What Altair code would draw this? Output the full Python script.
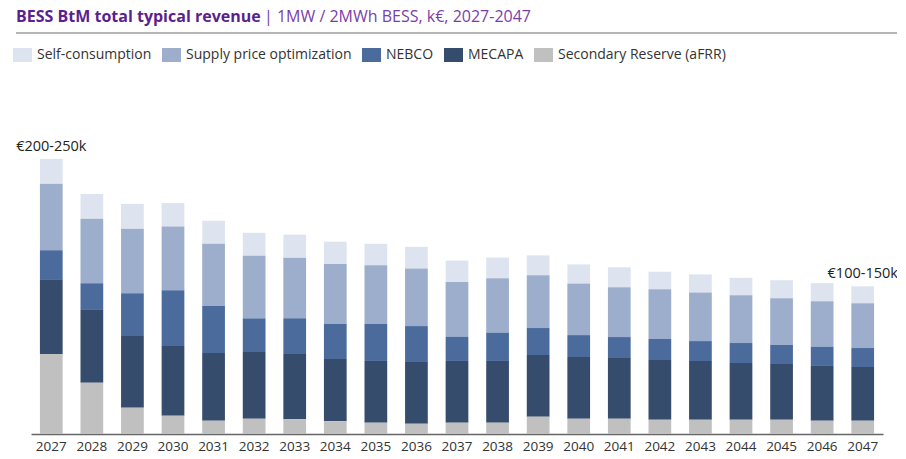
import altair as alt
import pandas as pd

# k€ per year
years = [str(y) for y in range(2027, 2048)]
afrr = [65.6, 42.1, 21.6, 15.0, 10.9, 12.5, 12.1, 10.4, 9.3, 8.4, 9.3,
        9.3, 14.2, 12.5, 12.5, 11.7, 11.7, 11.7, 11.7, 10.9, 10.9]
mecapa = [61.3, 60.2, 58.8, 57.2, 55.5, 54.7, 53.5, 51.1, 50.6, 50.6, 50.6,
          50.6, 50.6, 50.6, 49.8, 49.0, 48.1, 46.5, 45.7, 44.9, 44.0]
nebco = [23.8, 21.3, 35.0, 45.7, 38.5, 27.6, 29.3, 28.7, 30.3, 29.5, 19.7,
         23.0, 22.1, 18.0, 17.2, 17.2, 16.4, 16.4, 15.6, 15.6, 15.6]
supply = [54.6, 53.0, 53.0, 52.2, 51.1, 51.3, 49.7, 49.2, 48.1, 47.3, 45.1,
          44.9, 43.2, 42.4, 40.8, 40.8, 39.9, 39.1, 38.3, 37.5, 36.7]
selfc = [20.3, 20.3, 20.3, 19.4, 18.9, 18.9, 18.9, 18.3, 17.7, 17.7, 17.5,
         16.9, 16.4, 15.6, 16.4, 14.4, 14.8, 14.4, 14.8, 14.8, 13.9]

series = ['Self-consumption', 'Supply price optimization', 'NEBCO', 'MECAPA',
          'Secondary Reserve (aFRR)']
colors = ['#dde4ef', '#9caecb', '#4a6b9c', '#364c6c', '#c0c0c0']
stack_pos = [4, 3, 2, 1, 0]  # aFRR at the bottom

rows = []
for name, vals, pos in zip(series, [selfc, supply, nebco, mecapa, afrr], stack_pos):
    for yr, v in zip(years, vals):
        rows.append({'year': yr, 'stream': name, 'value': v, 'pos': pos})
df = pd.DataFrame(rows)

totals = [sum(v) for v in zip(afrr, mecapa, nebco, supply, selfc)]
notes = pd.DataFrame({
    'year': [years[0], years[-1]],
    'total': [totals[0], totals[-1]],
    'label': ['€200-250k', '€100-150k'],
})

FONT = 'Open Sans'
y_scale = alt.Scale(domain=[0, 290.3], nice=False)

bars = alt.Chart(df).mark_bar().encode(
    x=alt.X('year:N', title=None, sort=years,
            scale=alt.Scale(paddingInner=0.44, paddingOuter=0.22),
            axis=alt.Axis(labelAngle=0, ticks=False, labelPadding=5,
                          labelFontSize=13.5, labelColor='#333333',
                          labelFont=FONT, domainColor='#666666',
                          domainWidth=1.5)),
    y=alt.Y('value:Q', stack='zero', scale=y_scale, axis=None),
    color=alt.Color('stream:N', sort=series,
                    scale=alt.Scale(domain=series, range=colors),
                    legend=alt.Legend(
                        title=None, orient='none', direction='horizontal',
                        legendX=-15.5, legendY=-32,
                        symbolType='M-1.36,-1L1.36,-1L1.36,1L-1.36,1Z',
                        symbolSize=196, symbolStrokeWidth=0, symbolOpacity=1,
                        labelFontSize=14, labelFont=FONT, labelLimit=0,
                        labelColor='#333333', labelOffset=7.5,
                        columnPadding=10)),
    order=alt.Order('pos:Q', sort='ascending'),
)

labels = alt.Chart(notes).mark_text(
    baseline='bottom', dy=-5, fontSize=14.5, font=FONT, color='#222222'
).encode(
    x=alt.X('year:N', sort=years),
    y=alt.Y('total:Q', scale=y_scale),
    text='label:N',
)

one = pd.DataFrame({'k': [0]})
title_bold = alt.Chart(one).mark_text(
    text='BESS BtM total typical revenue', align='left', baseline='middle',
    fontSize=16, fontWeight='bold', font=FONT, color='#5b1f8e'
).encode(x=alt.value(-15), y=alt.value(-63.5))

title_rest = alt.Chart(one).mark_text(
    text='| 1MW / 2MWh BESS, k€, 2027-2047', align='left', baseline='middle',
    fontSize=16, font=FONT, color='#7a3ea8'
).encode(x=alt.value(233), y=alt.value(-63.5))

rule = alt.Chart(one).mark_rule(color='#9e9e9e', strokeWidth=1.5).encode(
    x=alt.value(-15), x2=alt.value(867), y=alt.value(-47)
)

chart = alt.layer(bars, labels, title_bold, title_rest, rule).properties(
    width=852, height=354,
    autosize=alt.AutoSizeParams(type='none'),
    padding={'left': 23, 'top': 72, 'right': 14, 'bottom': 21},
).configure_view(stroke=None)

chart.save('out.html', embed_options={'renderer': 'svg', 'actions': False})
